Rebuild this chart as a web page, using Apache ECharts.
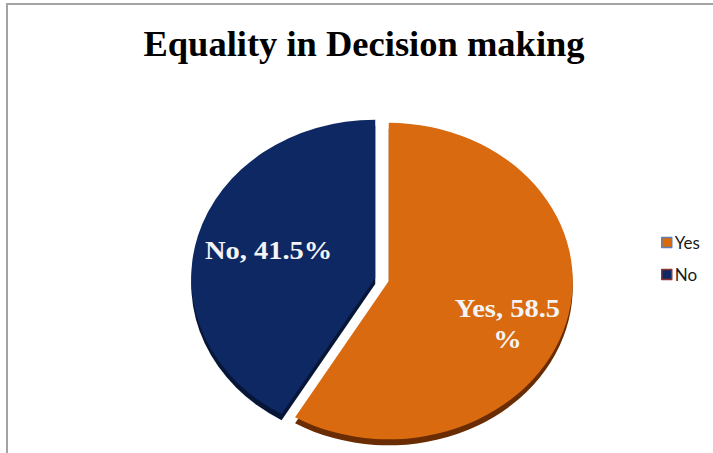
<!DOCTYPE html>
<html>
<head>
<meta charset="utf-8">
<script src="https://cdn.jsdelivr.net/npm/echarts@6/dist/echarts.min.js"></script>
<style>
  html, body { margin: 0; padding: 0; background: #ffffff; }
  #frame { position: absolute; left: 0; top: 0; width: 713px; height: 453px; }
  /* the pie is drawn in its own layer and flattened vertically to give the tilted look */
  #pie { position: absolute; left: 0; top: 0; width: 713px; height: 527px;
         transform: scaleY(0.86); transform-origin: 0 0; }
</style>
</head>
<body>
<div id="frame"></div>
<div id="pie"></div>
<script>
// answer categories and their shares (%)
const categories = ['Yes', 'No'];
const shares = [58.5, 41.5];
const faceColors = ['#d96a10', '#0d2862'];
const sideColors = ['#6a2c02', '#071636'];
const legendBorders = ['#5b80b8', '#8e3330'];
const titleText = 'Equality in Decision making';

const serif = '"Liberation Serif", "Times New Roman", serif';

// frame layer: title, legend, outline
const frame = echarts.init(document.getElementById('frame'), null, { renderer: 'svg' });
frame.setOption({
  animation: false,
  backgroundColor: '#ffffff',
  title: {
    text: titleText,
    left: 359,
    textAlign: 'center',
    top: 20,
    textStyle: { fontFamily: serif, fontWeight: 'bold', fontSize: 36.5, color: '#000000' }
  },
  legend: {
    orient: 'vertical',
    left: 656,
    top: 229,
    itemWidth: 10,
    itemHeight: 10,
    itemGap: 15,
    icon: 'rect',
    selectedMode: false,
    textStyle: { fontFamily: 'Lato, "Open Sans", sans-serif', fontSize: 17, color: '#1a1a1a', padding: [0, 0, 0, -2] },
    data: categories.map((c, i) => ({
      name: c,
      itemStyle: { color: faceColors[i], borderColor: legendBorders[i], borderWidth: 1.5 }
    }))
  },
  graphic: [{
    type: 'rect',
    shape: { x: 7, y: 4, width: 760, height: 500 },
    style: { fill: 'none', stroke: '#a3a3a3', lineWidth: 2 },
    silent: true
  }],
  series: [{
    type: 'pie',
    radius: [0, 0],
    silent: true,
    label: { show: false },
    labelLine: { show: false },
    data: categories.map((c, i) => ({ name: c, value: shares[i], itemStyle: { color: faceColors[i] } }))
  }]
});

// pie layer
const pie = echarts.init(document.getElementById('pie'), null, { renderer: 'svg' });
const sliceData = (colors, withLabel) => categories.map((c, i) => ({
  name: c,
  value: shares[i],
  selected: true,
  itemStyle: { color: colors[i] },
  label: withLabel ? {
    formatter: c === 'Yes' ? '{b}, {c}\n%' : '{b}, {c}%'
  } : undefined
}));
const labelShift = { Yes: [27, 25], No: [-15, -6] };

pie.setOption({
  animation: false,
  series: [
    {
      // side wall showing under the front edge
      type: 'pie',
      center: [382, 332],
      radius: 184,
      startAngle: 90,
      selectedMode: 'multiple',
      selectedOffset: 7,
      silent: true,
      emphasis: { disabled: true },
      label: { show: false },
      labelLine: { show: false },
      data: sliceData(sideColors, false)
    },
    {
      type: 'pie',
      center: [382, 325],
      radius: 184,
      startAngle: 90,
      selectedMode: 'multiple',
      selectedOffset: 7,
      silent: true,
      emphasis: { disabled: true },
      itemStyle: { borderWidth: 0 },
      label: {
        show: true,
        position: 'inside',
        fontFamily: serif,
        fontWeight: 'bold',
        fontSize: 28.5,
        lineHeight: 37,
        color: '#f4f4f4'
      },
      labelLine: { show: false },
      labelLayout: function (p) {
        const s = labelShift[categories[p.dataIndex]];
        return { dx: s[0], dy: s[1] };
      },
      data: sliceData(faceColors, true)
    }
  ]
});
</script>
</body>
</html>
